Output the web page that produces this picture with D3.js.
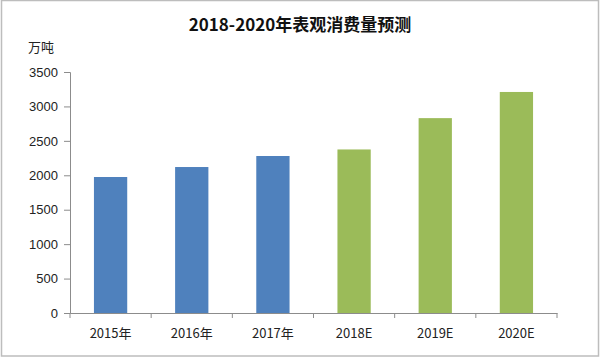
<!DOCTYPE html>
<html><head><meta charset="utf-8">
<script src="https://cdn.jsdelivr.net/npm/d3@7"></script>
<style>body{margin:0;background:#fff}svg{display:block}</style>
</head><body>
<script>
const categories = ["2015年","2016年","2017年","2018E","2019E","2020E"];
const values = [1975, 2120, 2280, 2375, 2830, 3210];
const isForecast = [false,false,false,true,true,true];
const yTicks = [0,500,1000,1500,2000,2500,3000,3500];
const title = "2018-2020年表观消费量预测";
const unit = "万吨";

const W=600,H=358;
const font = "'Noto Sans CJK SC','Liberation Sans',sans-serif";
const svg = d3.select("body").append("svg").attr("width",W).attr("height",H);
svg.append("rect").attr("x",1.5).attr("y",0.5).attr("width",W-3).attr("height",H-2.5)
  .attr("fill","#fff").attr("stroke","#bdbdbd").attr("stroke-width",1.5);

const m={left:70,right:43,top:72,bottom:45};
const x=d3.scaleBand().domain(categories).range([m.left,W-m.right]).paddingInner(0.59).paddingOuter(0.295);
const y=d3.scaleLinear().domain([0,3500]).range([H-m.bottom,m.top]);

svg.append("text").attr("x",300).attr("y",31).attr("text-anchor","middle")
  .attr("font-family",font).attr("font-weight","bold").attr("font-size",17).attr("fill","#111").text(title);
svg.append("text").attr("x",28).attr("y",52).attr("font-family",font).attr("font-size",13).attr("fill","#222").text(unit);

svg.selectAll("rect.bar").data(categories).enter().append("rect").attr("class","bar")
  .attr("x",d=>x(d)).attr("width",x.bandwidth())
  .attr("y",(d,i)=>y(values[i])).attr("height",(d,i)=>y(0)-y(values[i]))
  .attr("fill",(d,i)=>isForecast[i]?"#9BBB59":"#4F81BD");

const axisColor="#8c8c8c";
const yAxis=svg.append("g").attr("transform",`translate(${m.left},0)`)
  .call(d3.axisLeft(y).tickValues(yTicks).tickFormat(d3.format("d")).tickSize(6).tickPadding(6));
yAxis.select(".domain").attr("stroke",axisColor);
yAxis.selectAll(".tick line").attr("stroke",axisColor);
yAxis.selectAll("text").attr("font-family","'Liberation Sans',sans-serif").attr("font-size",13).attr("fill","#222");

const xAxis=svg.append("g").attr("transform",`translate(0,${y(0)})`)
  .call(d3.axisBottom(x).tickSize(0).tickPadding(16));
xAxis.select(".domain").attr("stroke",axisColor);
xAxis.selectAll("text").attr("font-family",font).attr("font-size",13).attr("fill","#222");
// band-boundary ticks
const step=x.step();
const bounds=categories.map(c=>x(c)-x.paddingInner()*step/2).concat([W-m.right]);
svg.append("g").selectAll("line").data(bounds).enter().append("line")
  .attr("x1",d=>d).attr("x2",d=>d).attr("y1",y(0)).attr("y2",y(0)+5).attr("stroke",axisColor);
</script>
</body></html>
